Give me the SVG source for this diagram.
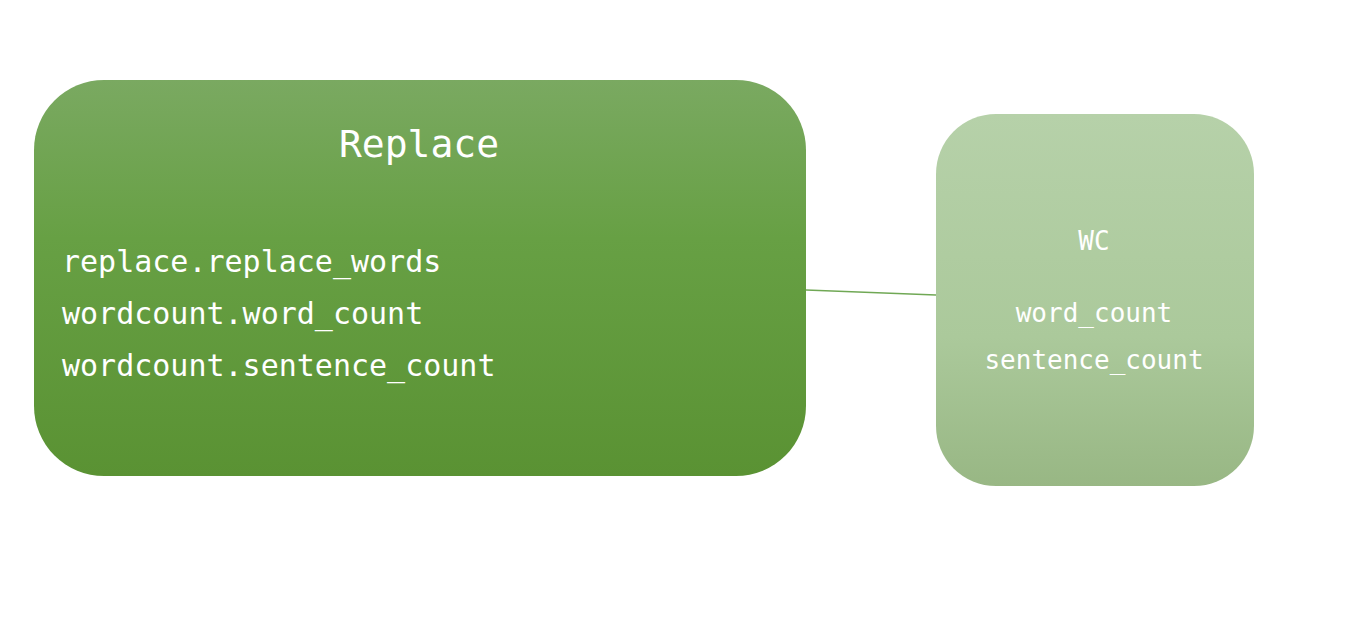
<svg xmlns="http://www.w3.org/2000/svg" width="1348" height="638" viewBox="0 0 1348 638">
<defs>
<linearGradient id="g1" x1="0" y1="0" x2="0" y2="1"><stop offset="0" stop-color="#7aa961"/><stop offset="0.4" stop-color="#67a044"/><stop offset="1" stop-color="#5a9233"/></linearGradient>
<linearGradient id="g2" x1="0" y1="0" x2="0" y2="1"><stop offset="0" stop-color="#b6d1a9"/><stop offset="0.6" stop-color="#abc99b"/><stop offset="1" stop-color="#98b784"/></linearGradient>
<style>text{font-family:"DejaVu Sans Mono",monospace;fill:#fff}</style>
</defs>
<rect width="1348" height="638" fill="#fff"/>
<g id="connectors"><line x1="806" y1="290" x2="936" y2="295" stroke="#70a855" stroke-width="1.5"/></g>
<g id="replace">
<rect x="34" y="80" width="772" height="396" rx="70" fill="url(#g1)"/>
<text x="419" y="157" font-size="38" text-anchor="middle">Replace</text>
<text x="62" y="272" font-size="30">replace.replace_words</text>
<text x="62" y="324" font-size="30">wordcount.word_count</text>
<text x="62" y="376" font-size="30">wordcount.sentence_count</text>
</g>
<g id="wc">
<rect x="936" y="114" width="318" height="372" rx="60" fill="url(#g2)"/>
<text x="1094" y="250" font-size="26" text-anchor="middle">WC</text>
<text x="1094" y="322" font-size="26" text-anchor="middle">word_count</text>
<text x="1094" y="369" font-size="26" text-anchor="middle">sentence_count</text>
</g>
</svg>
